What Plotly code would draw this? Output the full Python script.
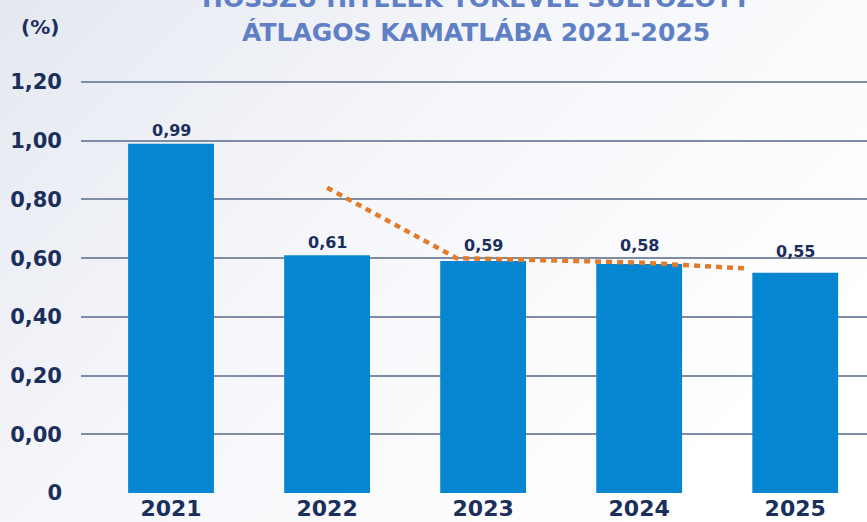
import base64
import plotly.graph_objects as go

# ---- data ----
years = ["2021", "2022", "2023", "2024", "2025"]
rates = [0.99, 0.61, 0.59, 0.58, 0.55]
rate_labels = ["0,99", "0,61", "0,59", "0,58", "0,55"]
trend_x = [1.0, 1.83, 3.0, 3.68]
trend_y = [0.84, 0.60, 0.585, 0.565]
tick_vals = [-0.2, 0.0, 0.2, 0.4, 0.6, 0.8, 1.0, 1.2]
tick_text = ["0", "0,00", "0,20", "0,40", "0,60", "0,80", "1,00", "1,20"]
title_line1 = "HOSSZÚ HITELEK TŐKÉVEL SÚLYOZOTT"
title_line2 = "ÁTLAGOS KAMATLÁBA 2021-2025"
unit_label = "(%)"

# ---- style ----
NAVY = "#1b2f5c"
BAR = "#0686d0"
ORANGE = "#e27b2b"
TITLE = "#5f80c4"
GRID = "#7e8ca6"
FONT = "DejaVu Sans"
base_val = tick_vals[0]
label_shift = [2, 1, 4, 7, 10]

xpos = list(range(len(years)))

fig = go.Figure()
fig.add_trace(go.Bar(
    x=xpos,
    y=[v - base_val for v in rates],
    base=base_val,
    width=0.55,
    marker=dict(color=BAR, line=dict(width=0)),
    hoverinfo="skip",
))
fig.add_trace(go.Scatter(
    x=trend_x, y=trend_y, mode="lines",
    line=dict(color=ORANGE, width=4.5, dash="6px,5px"),
    hoverinfo="skip",
))

for i, (v, t) in enumerate(zip(rates, rate_labels)):
    fig.add_annotation(x=xpos[i], y=v, text=f"<b>{t}</b>", showarrow=False,
                       yanchor="bottom", yshift=label_shift[i],
                       font=dict(family=FONT, size=16, color=NAVY))

fig.add_annotation(xref="paper", yref="paper", x=0.503, y=1.0, yshift=62,
                   text=f"<b>{title_line1}</b>", showarrow=False,
                   xanchor="center", yanchor="middle",
                   font=dict(family=FONT, size=25, color=TITLE))
fig.add_annotation(xref="paper", yref="paper", x=0.503, y=1.0, yshift=28,
                   text=f"<b>{title_line2}</b>", showarrow=False,
                   xanchor="center", yanchor="middle",
                   font=dict(family=FONT, size=25, color=TITLE))
fig.add_annotation(xref="paper", yref="paper", x=0, y=1.0, xshift=-41, yshift=33,
                   text=f"<b>{unit_label}</b>", showarrow=False,
                   xanchor="center", yanchor="middle",
                   font=dict(family=FONT, size=20, color=NAVY))

svg = """<svg xmlns='http://www.w3.org/2000/svg' width='867' height='522'>
<defs><linearGradient id='g' x1='0' y1='0' x2='1' y2='0.6'>
<stop offset='0' stop-color='#e4e8f0'/><stop offset='0.45' stop-color='#f5f6fa'/>
<stop offset='1' stop-color='#ffffff'/></linearGradient></defs>
<rect width='867' height='522' fill='url(#g)'/></svg>"""
src = "data:image/svg+xml;base64," + base64.b64encode(svg.encode()).decode()
fig.add_layout_image(dict(source=src, xref="paper", yref="paper",
                          x=-81 / 786, y=1 + 60 / 433, sizex=867 / 786, sizey=522 / 433,
                          xanchor="left", yanchor="top", sizing="stretch", layer="below"))

fig.update_layout(
    width=867, height=522,
    margin=dict(l=81, r=0, t=60, b=29),
    paper_bgcolor="#ffffff",
    plot_bgcolor="rgba(0,0,0,0)",
    showlegend=False,
    bargap=0.45,
    xaxis=dict(
        range=[-0.577, 4.46],
        tickmode="array", tickvals=xpos, ticktext=[f"<b>{y}</b>" for y in years],
        tickfont=dict(family=FONT, size=22, color=NAVY),
        showgrid=False, zeroline=False, showline=False, ticks="",
        ticklabelstandoff=0, automargin=False,
    ),
    yaxis=dict(
        range=[-0.2, 1.275],
        tickmode="array", tickvals=tick_vals, ticktext=[f"<b>{t}</b>" for t in tick_text],
        tickfont=dict(family=FONT, size=21, color=NAVY),
        showgrid=True, gridcolor=GRID, gridwidth=1.5,
        zeroline=False, showline=False, ticks="",
        ticklabelstandoff=18, automargin=False,
    ),
)

fig.write_html("out.html",
               config={"displayModeBar": False},
               post_script="document.body.style.margin='0';document.body.style.overflow='hidden';")
